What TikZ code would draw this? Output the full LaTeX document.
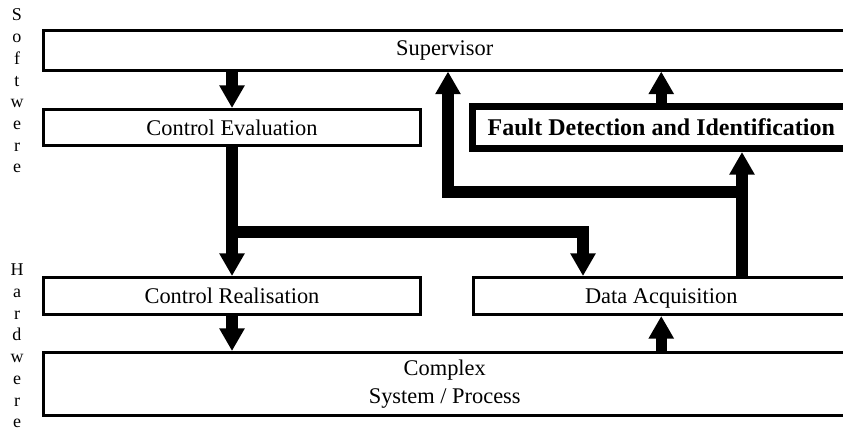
\documentclass[tikz,border=0pt]{standalone}
\usepackage{fontspec}
\setmainfont{Liberation Serif}
\usetikzlibrary{arrows.meta}

\tikzstyle{block}=[rectangle,draw=black,line width=2.25pt,inner sep=0pt,align=center,font=\fontsize{16.8}{21}\selectfont]
\tikzstyle{flow}=[line width=8.5pt,-{Triangle[length=17pt,width=18pt]}]
\tikzstyle{side}=[align=center,inner sep=0pt,font=\fontsize{13.5}{16.3}\selectfont]

\begin{document}
\begin{tikzpicture}[x=0.75pt,y=-0.75pt]
	\useasboundingbox (0,0) rectangle (843,430);

	% Software
	\node[block,minimum width=601.875pt,minimum height=29.625pt] (sup) at (444.75,50.25) {Supervisor};
	\node[block,minimum width=282.75pt,minimum height=27pt] (ceval) at (232,127.5) {Control Evaluation};
	\node[block,line width=5.25pt,minimum width=283.125pt,minimum height=31.5pt,font=\fontsize{18}{21}\selectfont\bfseries] (fdi) at (661.25,127.5) {Fault Detection and Identification};

	% Hardware
	\node[block,minimum width=282.75pt,minimum height=27.75pt] (creal) at (232,296) {Control Realisation};
	\node[block,text depth=0pt,minimum width=281.625pt,minimum height=27.75pt] (dacq) at (661.25,296) {Data Acquisition};
	\node[block,minimum width=601.875pt,minimum height=47.25pt] (sys) at (444.75,384) {Complex\\System / Process};

	% Labels
	\node[side] (soft) at (17,91) {S\\o\\f\\t\\w\\e\\r\\e};
	\node[side] (hard) at (17,346) {H\\a\\r\\d\\w\\e\\r\\e};

	% Flows
	\coordinate (split) at (232,232);
	\coordinate (turn) at (583,232);
	\coordinate (fork) at (742,192);
	\coordinate (loop) at (448,192);

	\draw[flow] (sup.south -| ceval.north) -- (ceval.north);
	\draw[flow] (ceval) -- (creal);
	\draw[flow] (split) -- (turn) -- (turn |- dacq.north);
	\draw[flow] (creal.south) -- (creal.south |- sys.north);
	\draw[flow] (dacq.south |- sys.north) -- (dacq.south);
	\draw[flow] (dacq.north -| fork) -- (fdi.south -| fork);
	\draw[flow] (fork) -- (loop) -- (loop |- sup.south);
	\draw[flow] (fdi.north) -- (fdi.north |- sup.south);
\end{tikzpicture}
\end{document}
